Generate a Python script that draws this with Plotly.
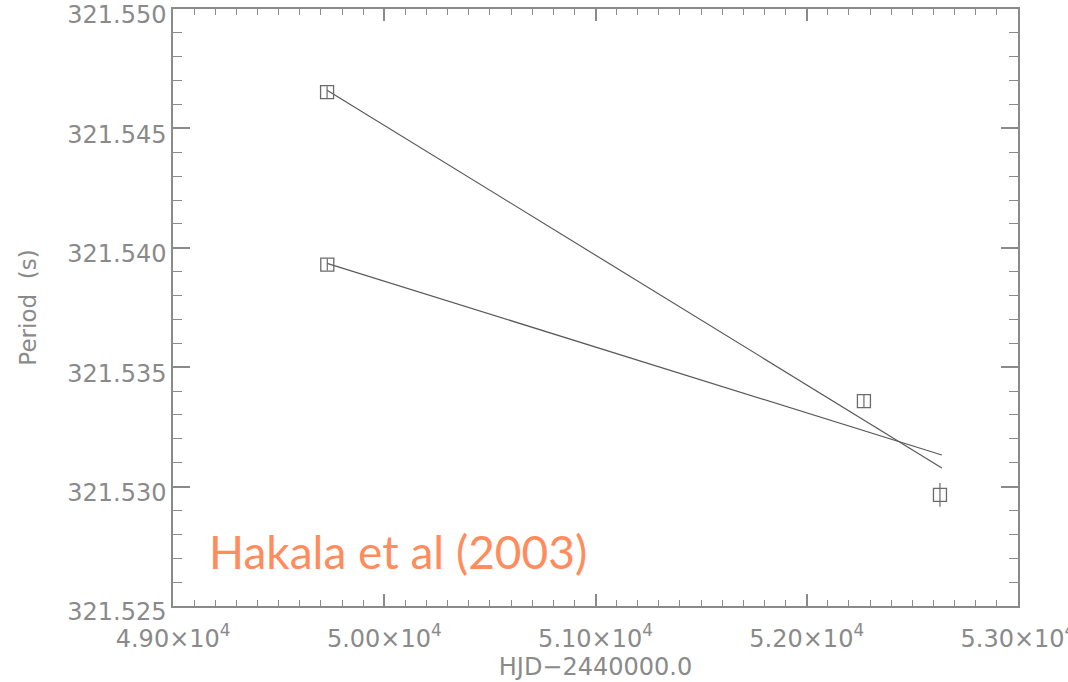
import plotly.graph_objects as go

# Data
hjd = [49729, 49730, 52271, 52631]
period = [321.54652, 321.53930, 321.53358, 321.52965]
period_err = [0.00025, 0.00025, 0.00025, 0.0005]

fit_x = [49729, 52640]
fit_upper = [321.54660, 321.53078]
fit_lower = [321.53935, 321.53132]

xtick_vals = [49000, 50000, 51000, 52000, 53000]
xtick_text = ["4.90×10<sup>4</sup>", "5.00×10<sup>4</sup>", "5.10×10<sup>4</sup>",
              "5.20×10<sup>4</sup>", "5.30×10<sup>4</sup>"]
ytick_vals = [321.525, 321.530, 321.535, 321.540, 321.545, 321.550]
ytick_text = ["321.525", "321.530", "321.535", "321.540", "321.545", "321.550"]

axis_col = "#8a8a8a"
text_col = "#8a8a8a"
line_col = "#5a5a5a"

fig = go.Figure()
fig.add_trace(go.Scatter(x=fit_x, y=fit_upper, mode="lines",
                         line=dict(color=line_col, width=1.2), showlegend=False))
fig.add_trace(go.Scatter(x=fit_x, y=fit_lower, mode="lines",
                         line=dict(color=line_col, width=1.2), showlegend=False))
fig.add_trace(go.Scatter(
    x=hjd, y=period, mode="markers",
    marker=dict(symbol="square-open", size=13, color="#6a6a6a", line=dict(width=1.3)),
    error_y=dict(type="data", array=period_err, color="#6a6a6a", thickness=1.2, width=0),
    showlegend=False))

fig.add_annotation(text="Hakala et al (2003)", xref="x", yref="y",
                   x=49160, y=321.5273, xanchor="left", yanchor="middle",
                   showarrow=False,
                   font=dict(family="Lato", size=46, color="#ff8c5c"))

fig.update_layout(
    width=1068, height=682,
    margin=dict(l=173, r=50, t=9, b=76, autoexpand=False),
    paper_bgcolor="white", plot_bgcolor="white",
    font=dict(family="DejaVu Sans", color=text_col),
    xaxis=dict(range=[48999.5, 53000.5], tickvals=xtick_vals, ticktext=xtick_text,
               automargin=False,
               showgrid=False, zeroline=False, showline=True, linecolor=axis_col,
               linewidth=1.5, mirror="ticks", ticks="inside", ticklen=12,
               tickcolor=axis_col, tickwidth=1.5, ticklabelstandoff=10,
               ticklabeloverflow="allow",
               tickfont=dict(size=24, color=text_col),
               minor=dict(dtick=100, ticks="inside", ticklen=6, tickcolor=axis_col,
                          tickwidth=1.2, showgrid=False),
               title=dict(text="HJD−2440000.0", font=dict(size=24, color=text_col),
                          standoff=2)),
    yaxis=dict(range=[321.524997, 321.550003], tickvals=ytick_vals, ticktext=ytick_text,
               automargin=False,
               showgrid=False, zeroline=False, showline=True, linecolor=axis_col,
               linewidth=1.5, mirror="ticks", ticks="inside", ticklen=17,
               tickcolor=axis_col, tickwidth=1.5, ticklabeloverflow="allow",
               ticklabelshift=6,
               tickfont=dict(size=24, color=text_col),
               minor=dict(dtick=0.001, ticks="inside", ticklen=9, tickcolor=axis_col,
                          tickwidth=1.2, showgrid=False),
               title=dict(text="Period  (s)", font=dict(size=23, color=text_col),
                          standoff=24)),
)

fig.write_html("out.html")
